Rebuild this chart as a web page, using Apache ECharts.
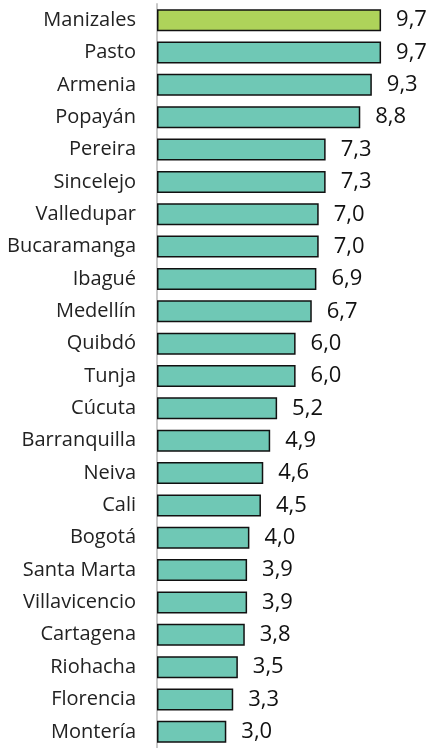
<!DOCTYPE html>
<html>
<head>
<meta charset="utf-8">
<script src="https://cdn.jsdelivr.net/npm/echarts@6/dist/echarts.min.js"></script>
<style>
  html, body { margin: 0; padding: 0; background: #fff; }
  #chart { width: 432px; height: 748px; }
</style>
</head>
<body>
<div id="chart"></div>
<script>
  var ciudades = ['Manizales', 'Pasto', 'Armenia', 'Popayán', 'Pereira', 'Sincelejo', 'Valledupar',
    'Bucaramanga', 'Ibagué', 'Medellín', 'Quibdó', 'Tunja', 'Cúcuta', 'Barranquilla', 'Neiva',
    'Cali', 'Bogotá', 'Santa Marta', 'Villavicencio', 'Cartagena', 'Riohacha', 'Florencia', 'Montería']
  var valores = [9.7, 9.7, 9.3, 8.8, 7.3, 7.3, 7.0, 7.0, 6.9, 6.7, 6.0, 6.0, 5.2, 4.9, 4.6, 4.5,
    4.0, 3.9, 3.9, 3.8, 3.5, 3.3, 3.0]
  var destacada = 'Manizales'

  var myChart = echarts.init(document.getElementById('chart'))
  myChart.setOption({
    animation: false,
    grid: { top: 4, bottom: 0, left: 157, right: 44 },
    xAxis: {
      type: 'value',
      min: 0,
      max: 10,
      show: false
    },
    yAxis: {
      type: 'category',
      inverse: true,
      data: ciudades,
      axisLine: { show: true, lineStyle: { color: '#c8c8c8', width: 2 } },
      axisTick: { show: false },
      axisLabel: {
        margin: 21,
        fontSize: 20,
        color: '#222',
        fontFamily: 'Open Sans'
      }
    },
    series: [{
      type: 'bar',
      barCategoryGap: '32%',
      data: valores.map(function (v, i) {
        return {
          value: v,
          itemStyle: { color: ciudades[i] === destacada ? '#aed35a' : '#6fc8b5' }
        }
      }),
      itemStyle: { borderColor: '#111', borderWidth: 1.5 },
      label: {
        show: true,
        position: 'right',
        distance: 15,
        fontSize: 22,
        color: '#111',
        fontFamily: 'Open Sans',
        formatter: function (p) { return p.value.toFixed(1).replace('.', ',') }
      }
    }]
  })
</script>
</body>
</html>
